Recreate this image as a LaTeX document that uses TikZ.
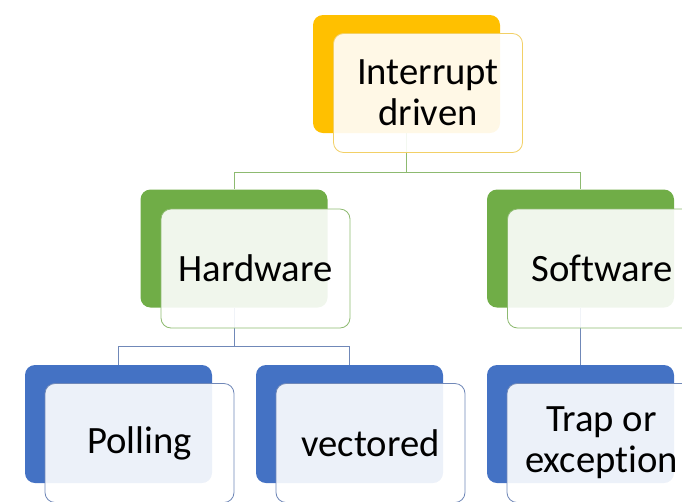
\documentclass[tikz,border=0pt]{standalone}
\usepackage{fontspec}
\setmainfont{Carlito}[Ligatures=NoCommon]
\usetikzlibrary{calc}

\definecolor{irqgold}{RGB}{255,192,0}
\definecolor{irqgoldln}{RGB}{242,208,102}
\definecolor{kindgreen}{RGB}{112,173,71}
\definecolor{kindgreenln}{RGB}{141,186,112}
\definecolor{leafblue}{RGB}{68,114,196}
\definecolor{leafblueln}{RGB}{112,136,184}

\tikzset{
  backbox/.style={fill=#1, rounded corners=7.5pt, minimum width=140.25pt, minimum height=88.5pt, inner sep=0pt},
  frontbox/.style={draw=#1, fill=white, fill opacity=0.9, text opacity=1, line width=0.6pt, rounded corners=7.5pt,
    minimum width=141.75pt, minimum height=89.25pt, inner sep=0pt, align=center, font=\fontsize{29}{31}\selectfont},
  link/.style={draw=#1, line width=0.75pt},
}

\begin{document}
\begin{tikzpicture}[x=0.75pt,y=0.75pt,yscale=-1,xscale=1]
\clip (0,0) rectangle (682,501);
% back plates
\node[backbox=irqgold] (irq) at (406.5,74) {};
\node[backbox=kindgreen] (hw) at (234,248.5) {};
\node[backbox=kindgreen] (sw) at (580.5,248.5) {};
\node[backbox=leafblue] (poll) at (118.5,424) {};
\node[backbox=leafblue] (vect) at (349.5,424) {};
\node[backbox=leafblue] (trap) at (580.5,424) {};
% tree lines
\draw[link=kindgreenln] (irq.south) -- ++(0,39) -| (hw.north);
\draw[link=kindgreenln] (irq.south) -- ++(0,39) -| (sw.north);
\draw[link=leafblueln] (hw.south) -- ++(0,39) -| (poll.north);
\draw[link=leafblueln] (hw.south) -- ++(0,39) -| (vect.north);
\draw[link=leafblueln] (sw.south) -- (trap.north);
% front cards
\node[frontbox=irqgoldln] (irq-f) at ($(irq)+(21.5,19)$) {Interrupt\\driven};
\node[frontbox=kindgreenln] (hw-f) at ($(hw)+(21.5,20)$) {Hardware};
\node[frontbox=kindgreenln] (sw-f) at ($(sw)+(21.5,20)$) {Software};
\node[frontbox=leafblueln] (poll-f) at ($(poll)+(21,19)$) {Polling};
\node[frontbox=leafblueln] (vect-f) at ($(vect)+(21,19)$) {vectored};
\node[frontbox=leafblueln] (trap-f) at ($(trap)+(21,19)$) {Trap or\\exception};
\end{tikzpicture}
\end{document}
